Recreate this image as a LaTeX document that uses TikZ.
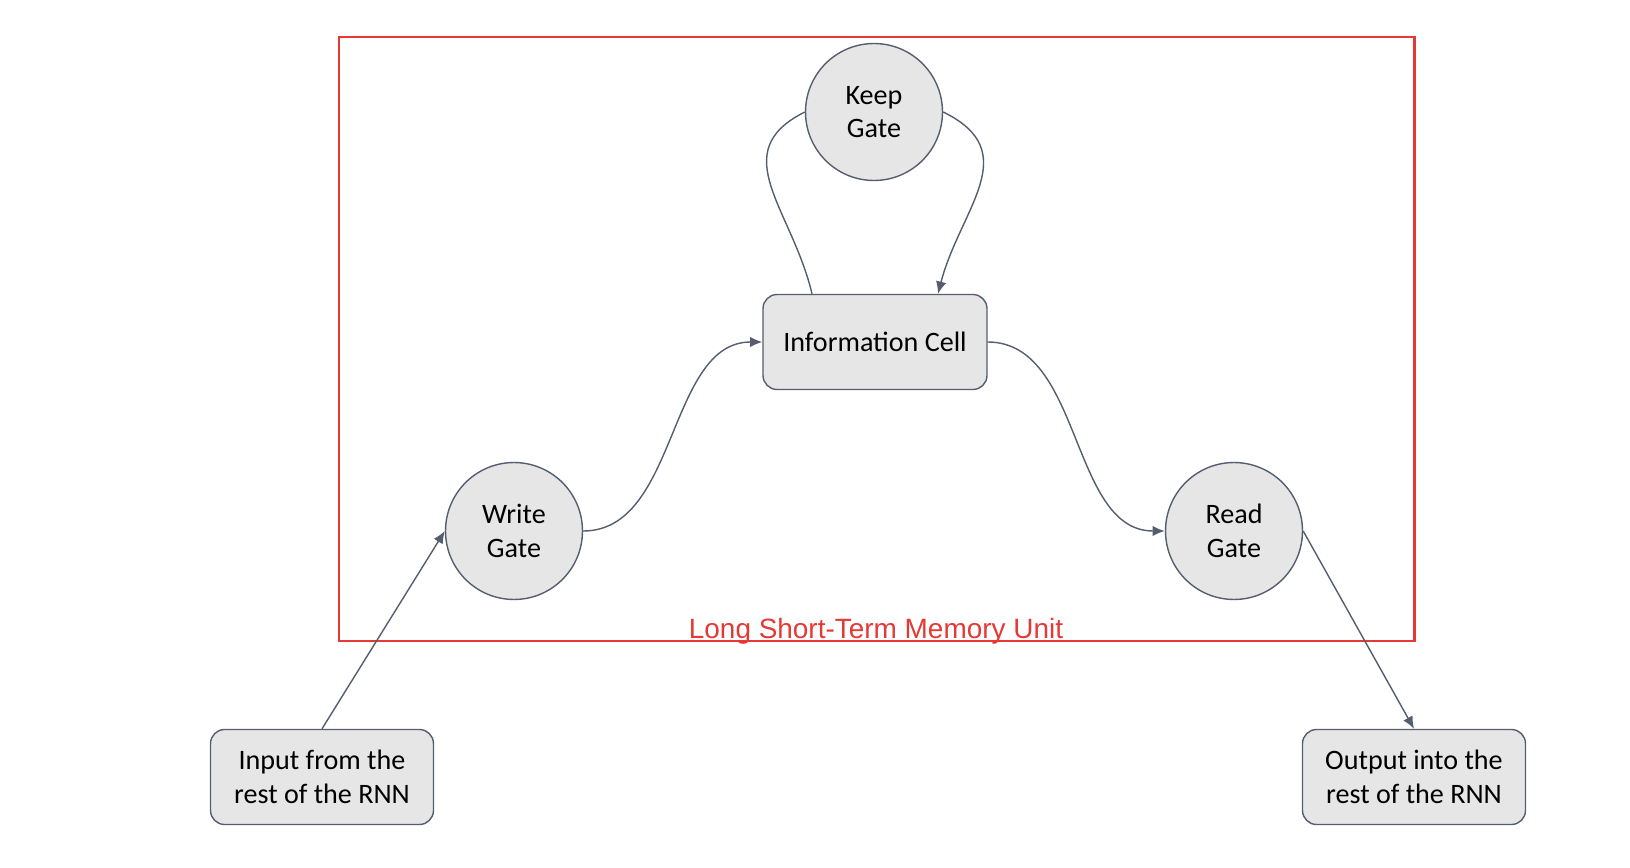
\documentclass[tikz,border=0pt]{standalone}
\usepackage{fontspec}
\setmainfont{Carlito}
\newfontfamily\labelfont{Liberation Sans}
\usepackage{xcolor}
\definecolor{lstmRed}{RGB}{229,57,53}
\definecolor{lstmEdge}{RGB}{84,94,110}
\definecolor{lstmFill}{RGB}{230,230,230}
\usetikzlibrary{
  arrows.meta,
  positioning,
  calc
}
\tikzset{
  lstmgate/.style={
    draw=lstmEdge,
    fill=lstmFill,
    circle,
    line width=0.8pt,
    align=center,
    font=\fontsize{16}{19}\selectfont,
    minimum size=2.74cm,
    inner sep=0pt
  },
  lstmbox/.style={
    draw=lstmEdge,
    fill=lstmFill,
    rounded corners=0.28cm,
    line width=0.8pt,
    align=center,
    font=\fontsize{16}{19}\selectfont,
    minimum width=4.46cm,
    minimum height=1.9cm,
    inner sep=2pt
  },
  lstmarrow/.style={
    -{Latex[length=7pt,width=6pt]},
    line width=0.8pt,
    lstmEdge
  },
  lstmline/.style={
    line width=0.8pt,
    lstmEdge
  },
  lstmframe/.style={draw=lstmRed, line width=1.7pt}
}

\begin{document}
\begin{tikzpicture}[x=0.02cm, y=-0.02cm]
  \useasboundingbox (0,0) rectangle (1630,868);

  % Rahmen der Einheit
  \draw[lstmframe] (339,37) rectangle (1414,641);
  \node[font=\labelfont\fontsize{15.9}{19}\selectfont, text=lstmRed, anchor=base]
    (lstmlabel) at (876,638) {Long Short-Term Memory Unit};

  % Gates und Zelle
  \node[lstmgate] (keep) at (874,112) {Keep\\Gate};
  \node[lstmbox, minimum width=4.48cm] (cell) at (875,342) {Information Cell};
  \node[lstmgate] (write) at (514,531) {Write\\Gate};
  \node[lstmgate] (read) at (1234,531) {Read\\Gate};

  % Ein- und Ausgang
  \node[lstmbox] (input) at (322,777) {Input from the\\rest of the RNN};
  \node[lstmbox] (output) at (1414,777) {Output into the\\rest of the RNN};

  % Verbindungen
  \draw[lstmarrow] (input.north) -- (write.west);
  \draw[lstmarrow] (write.east) .. controls +(95,0) and +(-95,0) .. (cell.west);
  \draw[lstmarrow] (cell.east) .. controls +(95,0) and +(-95,0) .. (read.west);
  \draw[lstmarrow] (read.east) -- (output.north);

  \draw[lstmline] ($(cell.north)+(-63,0)$) .. controls +(-20,-85) and +(-80,40) .. (keep.west);
  \draw[lstmarrow] (keep.east) .. controls +(82,40) and +(22,-85) .. ($(cell.north)+(63,0)$);
\end{tikzpicture}
\end{document}
